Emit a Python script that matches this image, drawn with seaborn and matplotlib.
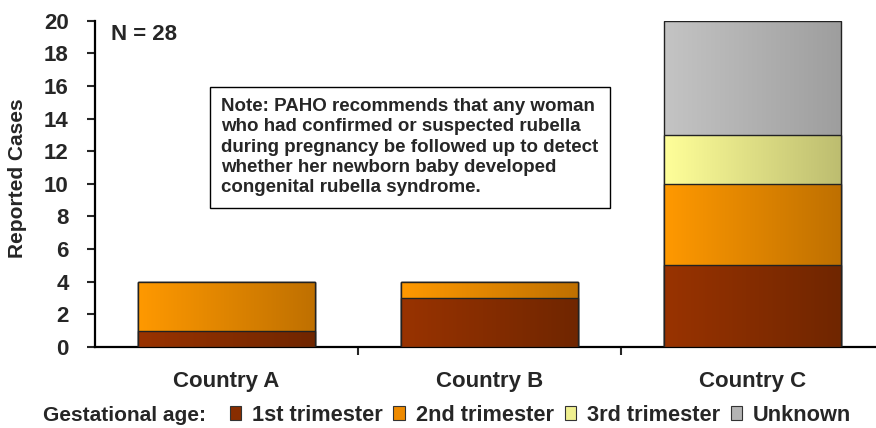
import numpy as np
import matplotlib
matplotlib.use("Agg")
import matplotlib.pyplot as plt
from matplotlib.colors import LinearSegmentedColormap
from matplotlib.patches import Patch, Rectangle
import seaborn as sns

# data
countries = ["Country A", "Country B", "Country C"]
first_tri = [1, 3, 5]
second_tri = [3, 1, 5]
third_tri = [0, 0, 3]
unknown = [0, 0, 7]
series_names = ["1st trimester", "2nd trimester", "3rd trimester", "Unknown"]
y_ticks = list(range(0, 21, 2))

# gradient colours (left -> right) for each series
grad_colors = [("#993300", "#702600"),
               ("#ff9900", "#bf7000"),
               ("#ffff99", "#bdbd70"),
               ("#c4c4c4", "#9e9e9e")]
legend_colors = ["#882d00", "#ee8a00", "#f0f090", "#b4b4b4"]

sns.set_style("white")
plt.rcParams["font.family"] = ["Liberation Sans", "DejaVu Sans"]
plt.rcParams["font.weight"] = "bold"

fig = plt.figure(figsize=(8.76, 4.28), dpi=100)
# axes runs a bit past the right edge, like the reference
ax = fig.add_axes([0.1085, 0.1893, 0.9007, 0.7625])

series = [first_tri, second_tri, third_tri, unknown]
cum = np.cumsum(np.array(series), axis=0)

# draw tallest cumulative first, so lower segments overlay it
for i in reversed(range(len(series))):
    z = 10 + 3 * (len(series) - i)
    n_before = len(ax.patches)
    sns.barplot(x=countries, y=cum[i], color=grad_colors[i][0], width=0.67,
                saturation=1, linewidth=0, zorder=z, ax=ax)
    cmap = LinearSegmentedColormap.from_list(f"g{i}", grad_colors[i])
    for p in ax.patches[n_before:]:
        x0, y0 = p.get_x(), p.get_y()
        w, h = p.get_width(), p.get_height()
        if h <= 0:
            continue
        im = ax.imshow(np.linspace(0, 1, 256).reshape(1, -1), cmap=cmap,
                       extent=[x0, x0 + w, y0, y0 + h], aspect="auto",
                       zorder=z + 0.5, interpolation="bicubic")
        im.set_clip_path(p)
        ax.add_patch(Rectangle((x0, y0), w, h, fill=False, edgecolor="#222222",
                               linewidth=1.0, zorder=z + 1))

ax.set_xlim(-0.5, 2.5)
ax.set_ylim(0, 20)
ax.set_yticks(y_ticks)
ax.set_yticklabels([str(t) for t in y_ticks], fontsize=16, fontweight="bold")
ax.set_xticks([0.5, 1.5])
ax.set_xticklabels([])
ax.tick_params(axis="y", direction="out", length=6, width=1.5, pad=13, left=True)
ax.tick_params(axis="x", direction="out", length=6, width=1.5, bottom=True)
for i, c in enumerate(countries):
    ax.text(i, -2.1, c, ha="center", va="center", fontsize=16, fontweight="bold")

sns.despine(ax=ax, top=True, right=True)
ax.spines["left"].set_linewidth(1.6)
ax.spines["bottom"].set_linewidth(1.6)
ax.spines["left"].set_color("black")
ax.spines["bottom"].set_color("black")

ax.set_ylabel("Reported Cases", fontsize=15, fontweight="bold")
ax.yaxis.set_label_coords(-0.086, 0.518)
ax.set_xlabel("")

ax.text(0.02, 0.99, "N = 28", transform=ax.transAxes, ha="left", va="top",
        fontsize=16, fontweight="bold")

note = ("Note: PAHO recommends that any woman\n"
        "who had confirmed or suspected rubella\n"
        "during pregnancy be followed up to detect\n"
        "whether her newborn baby developed\n"
        "congenital rubella syndrome.")
ax.text(0.160, 0.763, note, transform=ax.transAxes, ha="left", va="top",
        fontsize=13.5, fontweight="bold", linespacing=1.26, zorder=30,
        bbox=dict(boxstyle="square,pad=0.6", facecolor="white",
                  edgecolor="black", linewidth=1.0))

# legend
fig.text(0.049, 0.03, "Gestational age:", ha="left", va="center",
         fontsize=15, fontweight="bold")
handles = [Patch(facecolor=legend_colors[k], edgecolor="#333333", linewidth=0.8)
           for k in range(len(series_names))]
fig.legend(handles, series_names, loc="center left", bbox_to_anchor=(0.262, 0.03),
           ncol=4, frameon=False, handlelength=0.52, handleheight=0.55,
           handletextpad=0.5, columnspacing=0.5, borderaxespad=0,
           borderpad=0, prop={"size": 15.7, "weight": "bold"})

fig.savefig("out.png", dpi=100)
